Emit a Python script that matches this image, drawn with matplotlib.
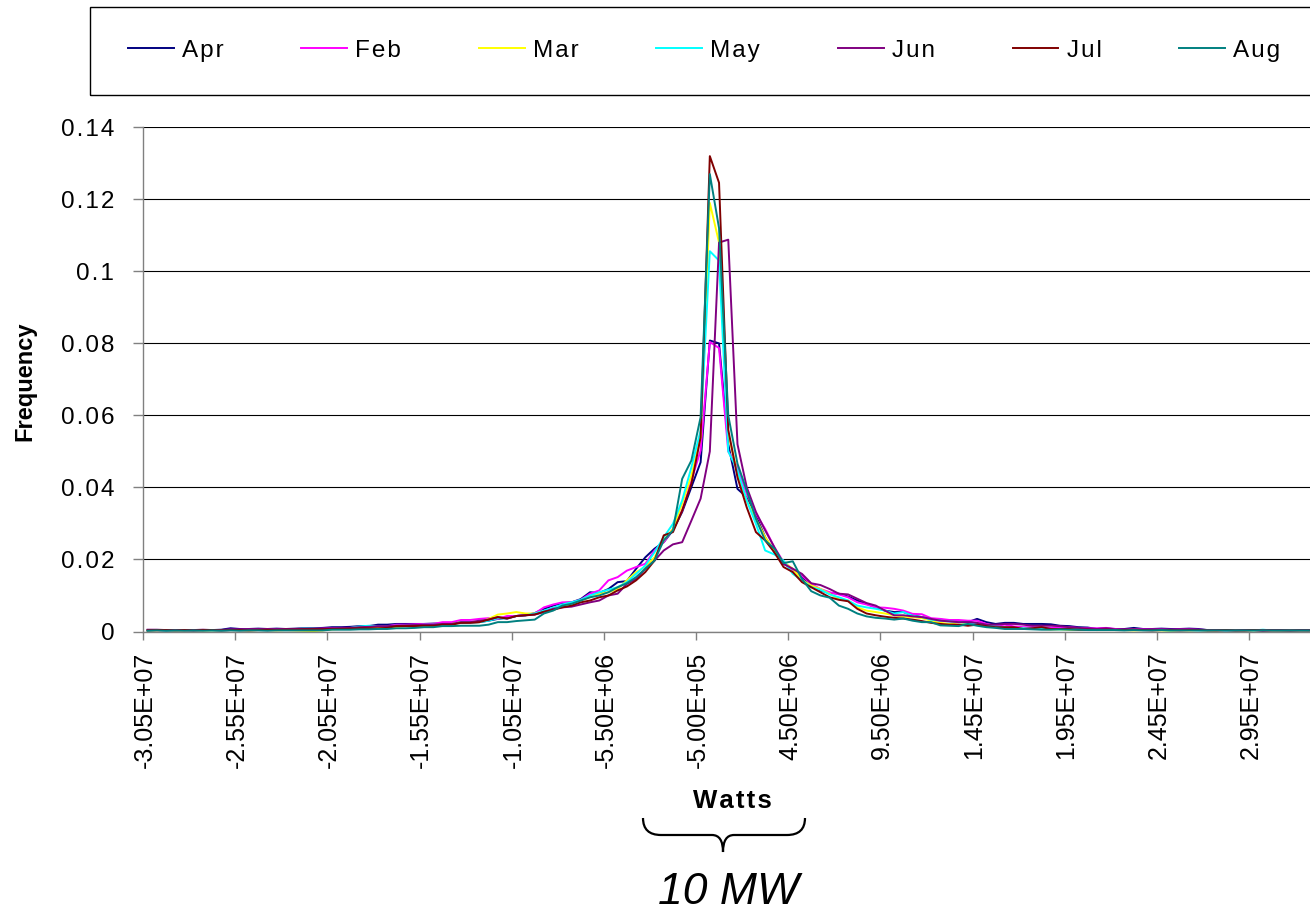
import numpy as np
import matplotlib
matplotlib.use("Agg")
import matplotlib.pyplot as plt
from matplotlib.path import Path
from matplotlib.patches import PathPatch, Rectangle

plt.rcParams['font.family'] = ['Liberation Sans', 'DejaVu Sans']

# ---------------- data ----------------
bins_w = np.arange(-30500000, 32500001, 500000)   # category bins (W)

months = ["Apr", "Feb", "Mar", "May", "Jun", "Jul", "Aug"]
colors = ["#000080", "#FF00FF", "#FFFF00", "#00FFFF", "#800080", "#800000", "#008080"]

apr = [0.0004, 0.0004, 0.0003, 0.0004, 0.0004, 0.0003, 0.0004, 0.0004, 0.0005,
       0.0009,
       0.0007, 0.0007, 0.0008, 0.0007, 0.0008, 0.0007, 0.0008,
       0.0009, 0.0009, 0.0010,
       0.0012, 0.0012, 0.0013,
       0.0015, 0.0015,
       0.0019, 0.0019,
       0.0021, 0.0021, 0.0021,
       0.0021, 0.0022,
       0.0022, 0.0022,
       0.0024, 0.0025,
       0.0026, 0.0030, 0.0035,
       0.0038, 0.0043, 0.0045, 0.0051, 0.0063, 0.0072, 0.0079, 0.0081, 0.0090, 0.0109,
       0.0107, 0.0118, 0.0137, 0.0140, 0.0174, 0.0206, 0.0230, 0.0248, 0.0281, 0.0332, 0.0401, 0.0470,
       0.0808, 0.0800, 0.0520, 0.0396,
       0.0373, 0.0322, 0.0262, 0.0220, 0.0188, 0.0174, 0.0152, 0.0128, 0.0114, 0.0107,
       0.0105, 0.0097, 0.0086, 0.0077, 0.0067, 0.0058, 0.0054, 0.0054, 0.0045, 0.0040,
       0.0035, 0.0033, 0.0030, 0.0028, 0.0026, 0.0035, 0.0026, 0.0021, 0.0024, 0.0024,
       0.0021, 0.0021, 0.0021, 0.0020, 0.0016, 0.0015, 0.0012, 0.0011, 0.0007, 0.0008,
       0.0007, 0.0007, 0.0010, 0.0007, 0.0007, 0.0008, 0.0007, 0.0007, 0.0008, 0.0007,
       0.0004, 0.0004, 0.0003, 0.0004, 0.0003, 0.0004, 0.0003, 0.0004, 0.0003, 0.0003, 0.0004, 0.0003]

feb = [0.0004, 0.0003, 0.0004, 0.0004, 0.0003, 0.0004, 0.0004, 0.0004, 0.0004,
       0.0005,
       0.0005, 0.0006, 0.0005, 0.0006, 0.0006, 0.0005, 0.0006,
       0.0007, 0.0007, 0.0008,
       0.0009, 0.0010, 0.0010,
       0.0012, 0.0012,
       0.0015, 0.0015,
       0.0019, 0.0019, 0.0020,
       0.0021, 0.0021,
       0.0026, 0.0026,
       0.0032, 0.0032,
       0.0035, 0.0037, 0.0035,
       0.0043, 0.0043, 0.0047, 0.0050, 0.0067, 0.0075, 0.0081, 0.0081, 0.0088, 0.0105,
       0.0114, 0.0142, 0.0151, 0.0169, 0.0179, 0.0188, 0.0225, 0.0248, 0.0285, 0.0336, 0.0419, 0.0503,
       0.0804, 0.0787, 0.0500, 0.0456,
       0.0382, 0.0327, 0.0285, 0.0234, 0.0193, 0.0171, 0.0155, 0.0132, 0.0118, 0.0109,
       0.0103, 0.0095, 0.0081, 0.0075, 0.0067, 0.0066, 0.0063, 0.0058, 0.0049, 0.0048,
       0.0037, 0.0035, 0.0032, 0.0032, 0.0030, 0.0030, 0.0021, 0.0016, 0.0019, 0.0014,
       0.0012, 0.0012, 0.0011, 0.0010, 0.0012, 0.0012, 0.0010, 0.0009, 0.0009, 0.0010,
       0.0007, 0.0005, 0.0007, 0.0006, 0.0006, 0.0006, 0.0005, 0.0006, 0.0006, 0.0005,
       0.0004, 0.0003, 0.0004, 0.0004, 0.0003, 0.0004, 0.0003, 0.0003, 0.0004, 0.0003, 0.0003, 0.0003]

mar = [0.0003, 0.0003, 0.0004, 0.0003, 0.0003, 0.0004, 0.0003, 0.0003, 0.0004,
       0.0004,
       0.0004, 0.0003, 0.0004, 0.0004, 0.0003, 0.0004, 0.0003,
       0.0002, 0.0001, 0.0003,
       0.0006, 0.0007, 0.0007,
       0.0007, 0.0009,
       0.0009, 0.0010,
       0.0013, 0.0015, 0.0015,
       0.0016, 0.0016,
       0.0021, 0.0021,
       0.0026, 0.0026,
       0.0026, 0.0035, 0.0047,
       0.0050, 0.0054, 0.0050, 0.0050, 0.0056, 0.0063, 0.0072, 0.0077, 0.0086, 0.0095,
       0.0105, 0.0109, 0.0118, 0.0142, 0.0165, 0.0179, 0.0206, 0.0253, 0.0285, 0.0355, 0.0433, 0.0539,
       0.1190, 0.1080, 0.0550, 0.0438,
       0.0364, 0.0313, 0.0262, 0.0225, 0.0193, 0.0174, 0.0143, 0.0128, 0.0118, 0.0105,
       0.0090, 0.0086, 0.0067, 0.0058, 0.0054, 0.0050, 0.0045, 0.0041, 0.0040, 0.0037,
       0.0030, 0.0024, 0.0021, 0.0026, 0.0021, 0.0020, 0.0016, 0.0013, 0.0010, 0.0009,
       0.0008, 0.0007, 0.0007, 0.0006, 0.0006, 0.0005, 0.0005, 0.0005, 0.0004, 0.0004,
       0.0004, 0.0004, 0.0003, 0.0004, 0.0004, 0.0003, 0.0002, 0.0004, 0.0003, 0.0004,
       0.0003, 0.0003, 0.0004, 0.0003, 0.0003, 0.0003, 0.0004, 0.0003, 0.0003, 0.0003, 0.0003, 0.0003]

may = [0.0003, 0.0004, 0.0003, 0.0003, 0.0004, 0.0003, 0.0004, 0.0003, 0.0003,
       0.0004,
       0.0004, 0.0005, 0.0004, 0.0004, 0.0005, 0.0006, 0.0006,
       0.0009, 0.0008, 0.0007,
       0.0007, 0.0008, 0.0010,
       0.0014, 0.0016,
       0.0015, 0.0015,
       0.0016, 0.0016, 0.0017,
       0.0019, 0.0019,
       0.0019, 0.0019,
       0.0026, 0.0026,
       0.0026, 0.0030, 0.0037,
       0.0036, 0.0043, 0.0045, 0.0050, 0.0058, 0.0066, 0.0075, 0.0081, 0.0088, 0.0100,
       0.0109, 0.0116, 0.0123, 0.0137, 0.0160, 0.0183, 0.0220, 0.0262, 0.0299, 0.0364, 0.0456, 0.0558,
       0.1056, 0.1030, 0.0500, 0.0447,
       0.0364, 0.0299, 0.0225, 0.0214, 0.0197, 0.0160, 0.0142, 0.0123, 0.0116, 0.0103,
       0.0095, 0.0086, 0.0072, 0.0067, 0.0063, 0.0058, 0.0050, 0.0054, 0.0044, 0.0040,
       0.0033, 0.0030, 0.0028, 0.0026, 0.0024, 0.0022, 0.0017, 0.0014, 0.0012, 0.0010,
       0.0009, 0.0008, 0.0008, 0.0007, 0.0006, 0.0007, 0.0006, 0.0005, 0.0005, 0.0005,
       0.0004, 0.0004, 0.0005, 0.0004, 0.0004, 0.0004, 0.0003, 0.0004, 0.0004, 0.0003,
       0.0003, 0.0004, 0.0003, 0.0003, 0.0004, 0.0003, 0.0005, 0.0003, 0.0003, 0.0003, 0.0003, 0.0003]

jun = [0.0005, 0.0005, 0.0004, 0.0004, 0.0004, 0.0004, 0.0005, 0.0004, 0.0004,
       0.0006,
       0.0006, 0.0007, 0.0007, 0.0006, 0.0007, 0.0007, 0.0007,
       0.0008, 0.0008, 0.0008,
       0.0009, 0.0010, 0.0010,
       0.0012, 0.0013,
       0.0015, 0.0015,
       0.0016, 0.0017, 0.0018,
       0.0019, 0.0019,
       0.0021, 0.0021,
       0.0026, 0.0026,
       0.0030, 0.0033, 0.0040,
       0.0036, 0.0043, 0.0045, 0.0047, 0.0054, 0.0063, 0.0067, 0.0069, 0.0075, 0.0081,
       0.0086, 0.0100, 0.0105, 0.0132, 0.0146, 0.0174, 0.0197, 0.0225, 0.0242, 0.0248, 0.0308, 0.0369,
       0.0500, 0.1080, 0.1088, 0.0520,
       0.0401, 0.0332, 0.0281, 0.0234, 0.0188, 0.0174, 0.0160, 0.0134, 0.0129, 0.0118,
       0.0105, 0.0103, 0.0091, 0.0079, 0.0072, 0.0058, 0.0045, 0.0045, 0.0042, 0.0040,
       0.0035, 0.0030, 0.0028, 0.0026, 0.0026, 0.0024, 0.0019, 0.0019, 0.0021, 0.0021,
       0.0019, 0.0016, 0.0016, 0.0016, 0.0015, 0.0012, 0.0010, 0.0008, 0.0007, 0.0009,
       0.0006, 0.0006, 0.0006, 0.0005, 0.0006, 0.0006, 0.0005, 0.0006, 0.0006, 0.0005,
       0.0004, 0.0004, 0.0004, 0.0003, 0.0004, 0.0004, 0.0003, 0.0004, 0.0004, 0.0003, 0.0004, 0.0004]

jul = [0.0003, 0.0004, 0.0004, 0.0003, 0.0004, 0.0003, 0.0004, 0.0004, 0.0003,
       0.0004,
       0.0004, 0.0003, 0.0004, 0.0005, 0.0004, 0.0005, 0.0005,
       0.0006, 0.0006, 0.0006,
       0.0007, 0.0007, 0.0008,
       0.0009, 0.0009,
       0.0009, 0.0010,
       0.0015, 0.0015, 0.0015,
       0.0016, 0.0016,
       0.0019, 0.0019,
       0.0024, 0.0024,
       0.0026, 0.0033, 0.0040,
       0.0036, 0.0043, 0.0045, 0.0047, 0.0055, 0.0060, 0.0067, 0.0072, 0.0081, 0.0086,
       0.0095, 0.0100, 0.0114, 0.0125, 0.0142, 0.0165, 0.0197, 0.0267, 0.0276, 0.0336, 0.0410, 0.0539,
       0.1320, 0.1246, 0.0560, 0.0428,
       0.0345, 0.0276, 0.0253, 0.0220, 0.0179, 0.0165, 0.0137, 0.0123, 0.0109, 0.0095,
       0.0088, 0.0084, 0.0063, 0.0050, 0.0045, 0.0041, 0.0038, 0.0036, 0.0033, 0.0029,
       0.0024, 0.0021, 0.0019, 0.0019, 0.0016, 0.0019, 0.0015, 0.0012, 0.0012, 0.0012,
       0.0007, 0.0009, 0.0012, 0.0007, 0.0007, 0.0007, 0.0005, 0.0005, 0.0004, 0.0005,
       0.0004, 0.0004, 0.0005, 0.0004, 0.0003, 0.0004, 0.0004, 0.0003, 0.0004, 0.0004,
       0.0003, 0.0003, 0.0004, 0.0003, 0.0003, 0.0004, 0.0003, 0.0003, 0.0003, 0.0003, 0.0003, 0.0003]

aug = [0.0002, 0.0003, 0.0002, 0.0003, 0.0002, 0.0003, 0.0002, 0.0003, 0.0002,
       0.0003,
       0.0002, 0.0003, 0.0003, 0.0002, 0.0003, 0.0003, 0.0003,
       0.0003, 0.0003, 0.0003,
       0.0005, 0.0005, 0.0005,
       0.0006, 0.0006,
       0.0007, 0.0007,
       0.0009, 0.0009, 0.0010,
       0.0012, 0.0012,
       0.0015, 0.0015,
       0.0016, 0.0016,
       0.0016, 0.0019, 0.0026,
       0.0026, 0.0029, 0.0031, 0.0033, 0.0050, 0.0058, 0.0072, 0.0077, 0.0086, 0.0095,
       0.0100, 0.0109, 0.0123, 0.0134, 0.0151, 0.0174, 0.0197, 0.0253, 0.0281, 0.0424, 0.0475, 0.0595,
       0.1270, 0.1120, 0.0600, 0.0466,
       0.0392, 0.0313, 0.0253, 0.0230, 0.0190, 0.0195, 0.0146, 0.0112, 0.0100, 0.0094,
       0.0072, 0.0063, 0.0050, 0.0042, 0.0038, 0.0036, 0.0033, 0.0036, 0.0030, 0.0026,
       0.0026, 0.0017, 0.0016, 0.0015, 0.0021, 0.0016, 0.0012, 0.0010, 0.0007, 0.0007,
       0.0007, 0.0006, 0.0005, 0.0005, 0.0006, 0.0005, 0.0005, 0.0004, 0.0004, 0.0004,
       0.0004, 0.0003, 0.0004, 0.0003, 0.0003, 0.0004, 0.0003, 0.0003, 0.0003, 0.0003,
       0.0003, 0.0003, 0.0003, 0.0003, 0.0003, 0.0003, 0.0003, 0.0003, 0.0003, 0.0003, 0.0003, 0.0003]

series = [apr, feb, mar, may, jun, jul, aug]

x_tick_labels = ["-3.05E+07", "-2.55E+07", "-2.05E+07", "-1.55E+07", "-1.05E+07",
                 "-5.50E+06", "-5.00E+05", "4.50E+06", "9.50E+06", "1.45E+07",
                 "1.95E+07", "2.45E+07", "2.95E+07"]
y_ticks = [0, 0.02, 0.04, 0.06, 0.08, 0.10, 0.12, 0.14]
y_tick_labels = ["0", "0.02", "0.04", "0.06", "0.08", "0.1", "0.12", "0.14"]

# ---------------- layout ----------------
W, H = 1310, 913
fig = plt.figure(figsize=(W / 100, H / 100), dpi=100)
fig.patch.set_facecolor("white")


def fx(px):
    return px / W


def fy(py):
    return 1 - py / H


n = len(bins_w)
x_left, step = 143.0, 9.2167
y_zero, y_top = 631.5, 127.3
ax = fig.add_axes([fx(x_left), fy(y_zero), n * step / W, (y_zero - y_top) / H])

xs = np.arange(n)
lines = []
for vals, m, c in zip(series, months, colors):
    ln, = ax.plot(xs, vals, color=c, lw=1.4, label=m)
    lines.append(ln)

ax.set_xlim(-0.5, n - 0.5)
ax.set_ylim(0, 0.14)

major_pos = np.arange(0, n, 10)[:len(x_tick_labels)] - 0.5
ax.set_xticks(major_pos)
ax.set_xticklabels([])
ax.set_xticks(major_pos + 0.2, minor=True)
ax.set_xticklabels(x_tick_labels, minor=True, rotation=90, fontsize=18,
                   va="top", ha="center")
ax.tick_params(axis="x", which="major", direction="out", length=6, width=1, color="#808080")
ax.tick_params(axis="x", which="minor", length=0, pad=14.5)

hair = "\u200a"
ax.set_yticks(y_ticks)
ax.set_yticklabels([hair.join(s) for s in y_tick_labels], fontsize=17.5)
ax.tick_params(axis="y", direction="out", length=7.2, width=1, color="#808080", pad=13.5)

ax.yaxis.grid(True, color="black", lw=0.8)
ax.set_axisbelow(True)
for s in ("top", "right"):
    ax.spines[s].set_visible(False)
for s in ("left", "bottom"):
    ax.spines[s].set_color("#808080")
    ax.spines[s].set_linewidth(1.0)

# axis titles
fig.text(fx(25), fy(381), "Frequency", rotation=90, ha="center", va="center",
         fontsize=17, fontweight="bold")
fig.text(fx(732), fy(808), hair.join("Watts"), ha="center", va="baseline",
         fontsize=18.5, fontweight="bold")

# brace under "Watts"
bp = [(643, 818), (643, 835), (661, 835), (712, 835), (723, 835), (723, 852),
      (723, 835), (734, 835), (787, 835), (805, 835), (805, 818)]
codes = [Path.MOVETO, Path.CURVE3, Path.CURVE3, Path.LINETO, Path.CURVE3, Path.CURVE3,
         Path.CURVE3, Path.CURVE3, Path.LINETO, Path.CURVE3, Path.CURVE3]
brace = PathPatch(Path([(fx(a), fy(b)) for a, b in bp], codes), fill=False,
                  ec="black", lw=1.6, transform=fig.transFigure)
fig.add_artist(brace)

fig.text(fx(729), fy(904), "10 MW", ha="center", va="baseline", fontsize=32,
         style="italic")

# legend
box = Rectangle((fx(90), fy(95)), 1.0, (95 - 7) / H, transform=fig.transFigure,
                fill=False, ec="black", lw=1.0)
fig.add_artist(box)
fig.legend(lines, [hair.join(m) for m in months], ncol=7, loc="center left",
           bbox_to_anchor=(fx(128), fy(51)), frameon=False, fontsize=17.5,
           handlelength=1.89, handletextpad=0.33, columnspacing=3.2,
           borderpad=0, borderaxespad=0)

fig.savefig("out.png", dpi=100, facecolor="white")
